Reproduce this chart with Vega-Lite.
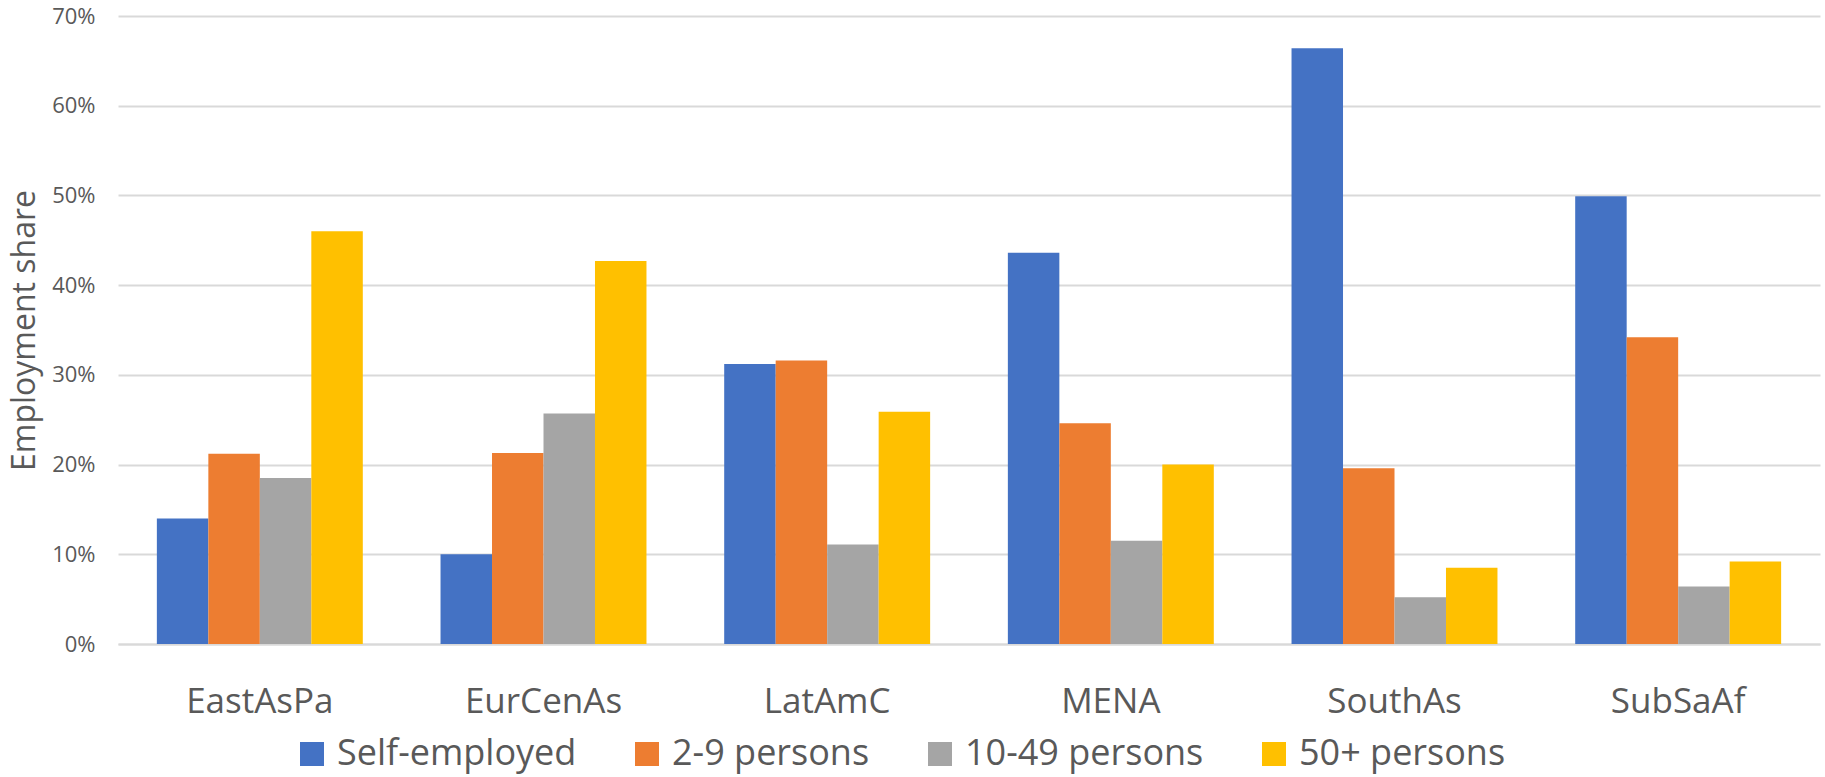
{
  "$schema": "https://vega.github.io/schema/vega-lite/v6.json",
  "autosize": {"type": "none"},
  "width": 1702,
  "height": 628,
  "padding": {"left": 118, "top": 16, "right": 5, "bottom": 133},
  "background": "white",
  "config": {
    "font": "Open Sans",
    "view": {"stroke": null},
    "axis": {"labelColor": "#595959", "titleColor": "#595959"}
  },
  "data": {
    "values": [
      {"region": "EastAsPa", "size": "Self-employed", "share": 0.140},
      {"region": "EastAsPa", "size": "2-9 persons", "share": 0.212},
      {"region": "EastAsPa", "size": "10-49 persons", "share": 0.185},
      {"region": "EastAsPa", "size": "50+ persons", "share": 0.460},
      {"region": "EurCenAs", "size": "Self-employed", "share": 0.100},
      {"region": "EurCenAs", "size": "2-9 persons", "share": 0.213},
      {"region": "EurCenAs", "size": "10-49 persons", "share": 0.257},
      {"region": "EurCenAs", "size": "50+ persons", "share": 0.427},
      {"region": "LatAmC", "size": "Self-employed", "share": 0.312},
      {"region": "LatAmC", "size": "2-9 persons", "share": 0.316},
      {"region": "LatAmC", "size": "10-49 persons", "share": 0.111},
      {"region": "LatAmC", "size": "50+ persons", "share": 0.259},
      {"region": "MENA", "size": "Self-employed", "share": 0.436},
      {"region": "MENA", "size": "2-9 persons", "share": 0.246},
      {"region": "MENA", "size": "10-49 persons", "share": 0.115},
      {"region": "MENA", "size": "50+ persons", "share": 0.200},
      {"region": "SouthAs", "size": "Self-employed", "share": 0.664},
      {"region": "SouthAs", "size": "2-9 persons", "share": 0.196},
      {"region": "SouthAs", "size": "10-49 persons", "share": 0.052},
      {"region": "SouthAs", "size": "50+ persons", "share": 0.085},
      {"region": "SubSaAf", "size": "Self-employed", "share": 0.499},
      {"region": "SubSaAf", "size": "2-9 persons", "share": 0.342},
      {"region": "SubSaAf", "size": "10-49 persons", "share": 0.064},
      {"region": "SubSaAf", "size": "50+ persons", "share": 0.092}
    ]
  },
  "mark": {"type": "bar"},
  "encoding": {
    "x": {
      "field": "region",
      "type": "nominal",
      "sort": ["EastAsPa", "EurCenAs", "LatAmC", "MENA", "SouthAs", "SubSaAf"],
      "scale": {"paddingInner": 0.274, "paddingOuter": 0.137},
      "axis": {
        "title": null,
        "labelAngle": 0,
        "labelFontSize": 35,
        "labelPadding": 40,
        "labelLimit": 0,
        "ticks": false,
        "domain": true,
        "domainColor": "#D9D9D9",
        "domainWidth": 2,
        "grid": false
      }
    },
    "xOffset": {
      "field": "size",
      "type": "nominal",
      "sort": ["Self-employed", "2-9 persons", "10-49 persons", "50+ persons"],
      "scale": {"paddingInner": 0, "paddingOuter": 0}
    },
    "y": {
      "field": "share",
      "type": "quantitative",
      "scale": {"domain": [0, 0.7], "nice": false},
      "axis": {
        "title": "Employment share",
        "titleFontSize": 32,
        "titleFontWeight": "normal",
        "titlePadding": 10,
        "format": ".0%",
        "values": [0, 0.1, 0.2, 0.3, 0.4, 0.5, 0.6, 0.7],
        "labelFontSize": 22,
        "labelPadding": 23,
        "ticks": false,
        "domain": false,
        "grid": true,
        "gridColor": "#D9D9D9",
        "gridWidth": 2
      }
    },
    "color": {
      "field": "size",
      "type": "nominal",
      "sort": ["Self-employed", "2-9 persons", "10-49 persons", "50+ persons"],
      "scale": {
        "domain": ["Self-employed", "2-9 persons", "10-49 persons", "50+ persons"],
        "range": ["#4472C4", "#ED7D31", "#A5A5A5", "#FFC000"]
      },
      "legend": {
        "title": null,
        "orient": "none",
        "direction": "horizontal",
        "legendX": 176,
        "legendY": 720,
        "symbolType": "square",
        "symbolSize": 576,
        "symbolStrokeWidth": 0,
        "symbolOpacity": 1,
        "labelFontSize": 36,
        "labelLimit": 0,
        "labelColor": "#595959",
        "labelOffset": 7,
        "columnPadding": 52,
        "padding": 0
      }
    }
  }
}
